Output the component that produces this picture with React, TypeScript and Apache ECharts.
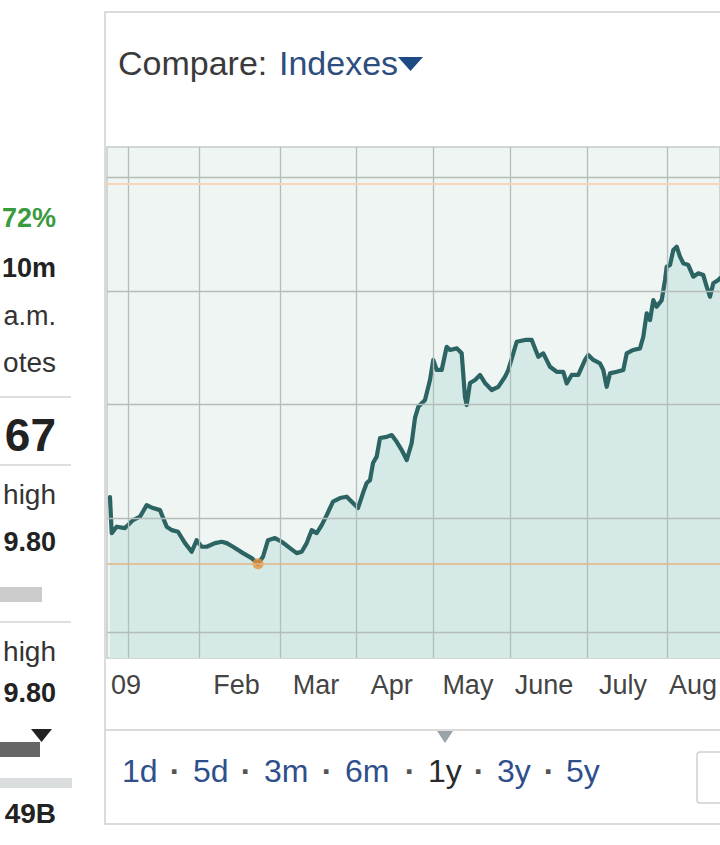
import React, { useEffect, useRef } from "react";
import * as echarts from "echarts";

// x: trading-day index along the 1y chart, y: share price
const dayIdx = [1.15, 1.81, 3.73, 6.92, 10.0, 12.69, 15.27, 17.69, 20.38, 22.96, 24.88, 27.31, 30.0, 32.58, 34.5, 36.42, 38.35, 41.54, 44.12, 46.04, 48.46, 52.31, 55.65, 58.08, 60.0, 61.92, 64.62, 67.19, 70.38, 72.96, 74.88, 76.81, 78.73, 80.65, 82.58, 84.5, 86.92, 89.62, 92.19, 94.62, 96.54, 98.46, 99.88, 101.15, 102.31, 103.73, 105.0, 107.58, 109.5, 111.42, 113.35, 115.27, 117.19, 118.46, 119.73, 122.31, 124.23, 125.5, 126.81, 128.73, 130.65, 131.92, 134.5, 136.42, 137.69, 138.35, 139.62, 141.54, 143.46, 145.38, 147.96, 150.5, 153.08, 154.35, 156.27, 157.58, 160.77, 163.35, 165.88, 167.81, 170.38, 172.96, 175.5, 176.81, 178.73, 181.27, 183.85, 185.12, 187.04, 189.62, 190.88, 192.19, 193.46, 196.04, 198.58, 199.88, 202.42, 205.0, 206.27, 207.58, 208.85, 210.12, 211.42, 213.35, 214.62, 215.27, 216.54, 217.81, 219.12, 220.38, 221.65, 223.58, 225.5, 227.42, 229.35, 230.65, 231.92, 233.19, 235.12, 235.77];
const price = [15.93, 14.35, 14.63, 14.57, 14.92, 15.07, 15.58, 15.45, 15.36, 14.63, 14.48, 14.41, 13.91, 13.53, 14.04, 13.75, 13.75, 13.91, 13.97, 13.91, 13.75, 13.47, 13.25, 13.0, 13.31, 14.04, 14.13, 13.97, 13.69, 13.47, 13.53, 13.91, 14.48, 14.35, 14.70, 15.14, 15.73, 15.89, 15.95, 15.67, 15.45, 16.11, 16.55, 16.68, 17.43, 17.71, 18.53, 18.58, 18.66, 18.36, 18.0, 17.56, 18.31, 19.41, 19.90, 20.20, 21.08, 21.96, 21.52, 21.52, 22.54, 22.40, 22.47, 22.25, 20.34, 19.98, 20.95, 21.08, 21.30, 20.95, 20.64, 20.78, 21.22, 21.52, 22.25, 22.76, 22.84, 22.84, 22.10, 22.25, 21.66, 21.44, 21.44, 20.93, 21.30, 21.30, 21.96, 22.18, 21.96, 21.81, 21.52, 20.78, 21.37, 21.44, 21.52, 22.25, 22.40, 22.47, 22.98, 24.01, 23.71, 24.59, 24.30, 24.59, 25.47, 26.06, 26.13, 26.79, 26.94, 26.50, 26.21, 26.13, 25.62, 25.77, 25.69, 25.18, 24.74, 25.33, 25.47, 25.55];

const monthLines = [8.08, 35.38, 66.54, 95.77, 125.38, 155.0, 184.6, 215.38];
const monthLabelPos = [7.31, 49.8, 80.4, 109.5, 138.8, 168.1, 198.5, 225.4];
const monthLabels = ["09", "Feb", "Mar", "Apr", "May", "June", "July", "Aug"];
const priceGrid = [10, 15, 20, 25, 30];
const yearHigh = 29.69;
const yearLow = 13.0;
const lowPoint = [58.08, 13.0];
const ranges = ["1d", "5d", "3m", "6m", "1y", "3y", "5y"];
const selectedRange = "1y";

// sidebar fragments visible at the cropped left edge
const sideTexts = ["72%", "10m", "a.m.", "otes", "67", "high", "9.80", "high", "9.80", "49B"];

const X_MIN = 0;
const X_MAX = 235.77;
const Y_MIN = 8.86;
const Y_MAX = 31.32;

const FONT = '"Liberation Sans", Arial, Helvetica, sans-serif';

export default function App() {
  const ref = useRef<HTMLDivElement>(null);

  useEffect(() => {
    document.body.style.margin = "0";
    document.documentElement.style.overflow = "hidden";
    if (!ref.current) return;
    const chart = echarts.init(ref.current, undefined, { renderer: "svg", width: 720, height: 845 });
    const pts = dayIdx.map((d, i) => [d, price[i]]);

    const gridColor = "#b3bdba";
    const markData: any[] = [];
    monthLines.forEach((v) =>
      markData.push({ xAxis: v, lineStyle: { color: gridColor, width: 1.3, type: "solid" } })
    );
    priceGrid.forEach((v) =>
      markData.push({ yAxis: v, lineStyle: { color: gridColor, width: 1.3, type: "solid" } })
    );
    markData.push({ yAxis: yearHigh, lineStyle: { color: "#f6d6bb", width: 2.2, type: "solid" } });
    markData.push({ yAxis: yearLow, lineStyle: { color: "#e2b482", width: 1.6, type: "solid" } });

    const txt = (
      text: string,
      x: number,
      y: number,
      size: number,
      color: string,
      bold = false,
      align: string = "left"
    ) => ({
      type: "text",
      x,
      y,
      silent: true,
      style: {
        text,
        fill: color,
        font: `${bold ? "bold " : ""}${size}px ${FONT}`,
        textAlign: align,
        textVerticalAlign: "middle",
      },
    });

    const hline = (x1: number, x2: number, y: number, color = "#d4d4d4", w = 1.5) => ({
      type: "line",
      silent: true,
      shape: { x1, y1: y, x2, y2: y },
      style: { stroke: color, lineWidth: w },
    });

    // range selector tokens
    const rangeX = [122, 193, 264, 345, 428, 497, 566];
    const dotX = [175, 246, 327, 410, 479, 549];
    const rangeEls: any[] = [];
    ranges.forEach((r, i) => {
      rangeEls.push(txt(r, rangeX[i], 771, 32, r === selectedRange ? "#2a2a2a" : "#2f4f8c"));
      if (i < dotX.length) rangeEls.push(txt("·", dotX[i], 771, 32, "#555", true, "center"));
    });

    const sideStyle = [
      { y: 218, size: 27, color: "#3b9a3e", bold: true },
      { y: 268, size: 27, color: "#222", bold: true },
      { y: 316, size: 27, color: "#333", bold: false },
      { y: 362, size: 28, color: "#333", bold: false },
      { y: 435, size: 46, color: "#222", bold: true },
      { y: 494, size: 28, color: "#333", bold: false },
      { y: 542, size: 27, color: "#222", bold: true },
      { y: 651, size: 28, color: "#333", bold: false },
      { y: 693, size: 27, color: "#222", bold: true },
      { y: 813, size: 28, color: "#222", bold: true },
    ];
    const sideEls = sideTexts.map((t, i) =>
      txt(t, 56, sideStyle[i].y, sideStyle[i].size, sideStyle[i].color, sideStyle[i].bold, "right")
    );

    const graphic: any[] = [
      // panel frame
      {
        type: "rect",
        silent: true,
        shape: { x: 105, y: 12, width: 700, height: 812 },
        style: { fill: "none", stroke: "#cfcfcf", lineWidth: 1.5 },
      },
      hline(105, 720, 730, "#cfcfcf", 1.5),
      {
        type: "polygon",
        silent: true,
        shape: { points: [[437, 731], [453, 731], [445, 743]] },
        style: { fill: "#9aa3a8" },
      },
      {
        type: "rect",
        silent: true,
        shape: { x: 697, y: 752, width: 60, height: 51, r: 3 },
        style: { fill: "#fff", stroke: "#cfcfcf", lineWidth: 1.5 },
      },
      // header
      txt("Compare:", 118, 63, 34, "#3a3a3a"),
      txt("Indexes", 279, 63, 34, "#2d4e7e"),
      {
        type: "polygon",
        silent: true,
        shape: { points: [[398, 57], [423, 57], [410.5, 71]] },
        style: { fill: "#1d4a82" },
      },
      ...rangeEls,
      // left column (cut off)
      ...sideEls,
      hline(0, 71, 397),
      hline(0, 71, 465),
      {
        type: "rect",
        silent: true,
        shape: { x: 0, y: 587, width: 42, height: 15 },
        style: { fill: "#cccccc" },
      },
      hline(0, 71, 622),
      {
        type: "rect",
        silent: true,
        shape: { x: 0, y: 742, width: 40, height: 15 },
        style: { fill: "#666" },
      },
      {
        type: "polygon",
        silent: true,
        shape: { points: [[31, 729], [52, 729], [41.5, 742]] },
        style: { fill: "#222" },
      },
      {
        type: "rect",
        silent: true,
        shape: { x: 0, y: 778, width: 72, height: 10 },
        style: { fill: "#d9dddd" },
      },
    ];

    chart.setOption({
      animation: false,
      backgroundColor: "#ffffff",
      grid: {
        left: 107,
        right: 0,
        top: 147,
        bottom: 187,
        outerBoundsMode: "none",
        containLabel: false,
        show: true,
        backgroundColor: "#eff5f2",
        borderColor: "#c3ccc9",
        borderWidth: 1.5,
      },
      xAxis: {
        type: "value",
        min: X_MIN,
        max: X_MAX,
        axisLine: { show: false },
        axisTick: { show: false },
        splitLine: { show: false },
        axisLabel: {
          customValues: monthLabelPos,
          formatter: (v: number) => {
            const i = monthLabelPos.indexOf(v);
            return i >= 0 ? monthLabels[i] : "";
          },
          color: "#444",
          fontSize: 27,
          fontFamily: FONT,
          margin: 13,
          showMinLabel: true,
          showMaxLabel: true,
        },
      },
      yAxis: {
        type: "value",
        min: Y_MIN,
        max: Y_MAX,
        show: false,
        splitLine: { show: false },
      },
      series: [
        {
          type: "line",
          data: pts,
          showSymbol: false,
          silent: true,
          z: 1,
          lineStyle: { width: 0, opacity: 0 },
          areaStyle: { color: "#d5e9e6", opacity: 1 },
        },
        {
          type: "line",
          data: pts,
          showSymbol: false,
          silent: true,
          z: 2,
          lineStyle: { width: 0, opacity: 0 },
          markLine: {
            silent: true,
            symbol: ["none", "none"],
            label: { show: false },
            animation: false,
            data: markData,
          },
        },
        {
          type: "line",
          data: pts,
          showSymbol: false,
          silent: true,
          z: 3,
          lineStyle: { color: "#2b6463", width: 4.2, join: "round", cap: "round" },
        },
        {
          type: "scatter",
          data: [lowPoint],
          symbolSize: 11,
          silent: true,
          z: 4,
          itemStyle: { color: "#e8923a" },
        },
      ],
      graphic,
    });

    return () => chart.dispose();
  }, []);

  return <div ref={ref} style={{ width: 720, height: 845, overflow: "hidden" }} />;
}
